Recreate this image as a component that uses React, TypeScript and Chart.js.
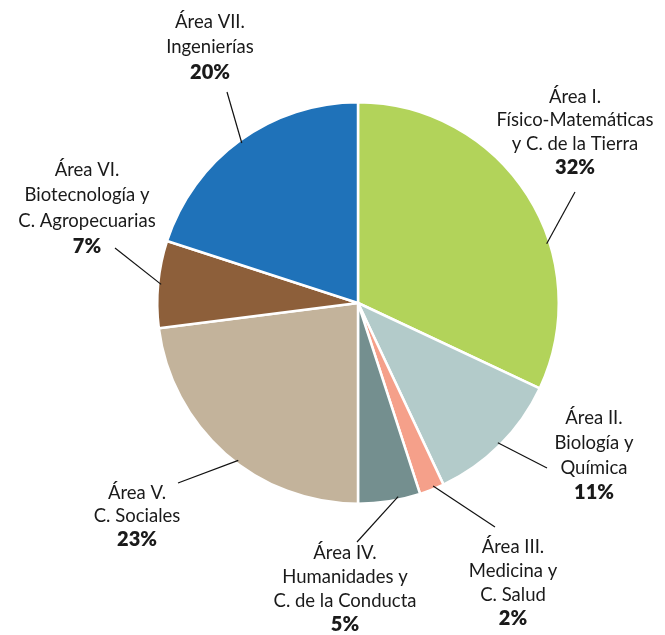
import React, { useEffect, useRef } from "react";
import { Chart, registerables } from "chart.js";

Chart.register(...registerables);

const categories: string[][] = [
  ["Área I.", "Físico-Matemáticas", "y C. de la Tierra"],
  ["Área II.", "Biología y", "Química"],
  ["Área III.", "Medicina y", "C. Salud"],
  ["Área IV.", "Humanidades y", "C. de la Conducta"],
  ["Área V.", "C. Sociales"],
  ["Área VI.", "Biotecnología y", "C. Agropecuarias"],
  ["Área VII.", "Ingenierías"],
];
const values: number[] = [32, 11, 2, 5, 23, 7, 20];
const colors: string[] = ["#b2d35a", "#b3cbca", "#f5a08a", "#748f8f", "#c3b39b", "#8d5f3a", "#1f72b9"];

// layout for the outside labels: text centre x, first line centre y, line step
const labelX = [575, 594, 513, 345, 137, 87, 210];
const labelY = [97, 418, 547, 553, 493, 170, 22];
const lineStep = [23.5, 25, 24, 24, 23.5, 25.5, 25.5];
// leader line: position inside the slice (fraction of angle), and outer end point
const leaderFrac = [0.63, 0.5, 0.4, 0.35, 0.45, 0.5, 0.5];
const leaderEnd: [number, number][] = [
  [575, 192], [547, 468], [495, 527], [357, 542], [178, 483], [115, 248], [227, 92],
];

const FONT = "Lato, 'Open Sans', sans-serif";

const labelPlugin = {
  id: "outLabels",
  afterDraw(chart: any) {
    const ctx = chart.ctx;
    const meta = chart.getDatasetMeta(0);
    ctx.save();
    meta.data.forEach((arc: any, i: number) => {
      const { x, y, startAngle, endAngle, outerRadius } = arc.getProps(
        ["x", "y", "startAngle", "endAngle", "outerRadius"], true
      );
      const a = startAngle + (endAngle - startAngle) * leaderFrac[i];
      const r = outerRadius - 3;
      const sx = x + Math.cos(a) * r;
      const sy = y + Math.sin(a) * r;
      ctx.beginPath();
      ctx.moveTo(sx, sy);
      ctx.lineTo(leaderEnd[i][0], leaderEnd[i][1]);
      ctx.strokeStyle = "#111";
      ctx.lineWidth = 1.2;
      ctx.stroke();

      ctx.fillStyle = "#1a1a1a";
      ctx.textAlign = "center";
      ctx.textBaseline = "middle";
      const lines = categories[i];
      lines.forEach((t, j) => {
        ctx.font = `400 18.5px ${FONT}`;
        ctx.fillText(t, labelX[i], labelY[i] + j * lineStep[i]);
      });
      ctx.font = `800 20px ${FONT}`;
      ctx.fillText(values[i] + "%", labelX[i], labelY[i] + lines.length * lineStep[i]);
    });
    ctx.restore();
  },
};

export default function App() {
  const ref = useRef<HTMLCanvasElement | null>(null);
  useEffect(() => {
    document.body.style.margin = "0";
    const chart = new Chart(ref.current!, {
      type: "pie",
      data: {
        labels: categories.map((c) => c.join(" ")),
        datasets: [
          {
            data: values,
            backgroundColor: colors,
            borderColor: "#ffffff",
            borderWidth: 2.5,
          },
        ],
      },
      options: {
        animation: false,
        responsive: false,
        layout: { padding: { left: 156, right: 105, top: 101, bottom: 130 } },
        plugins: { legend: { display: false }, tooltip: { enabled: false } },
      },
      plugins: [labelPlugin],
    });
    return () => chart.destroy();
  }, []);
  return (
    <div style={{ width: 665, height: 635 }}>
      <canvas ref={ref} width={665} height={635} style={{ display: "block" }} />
    </div>
  );
}
